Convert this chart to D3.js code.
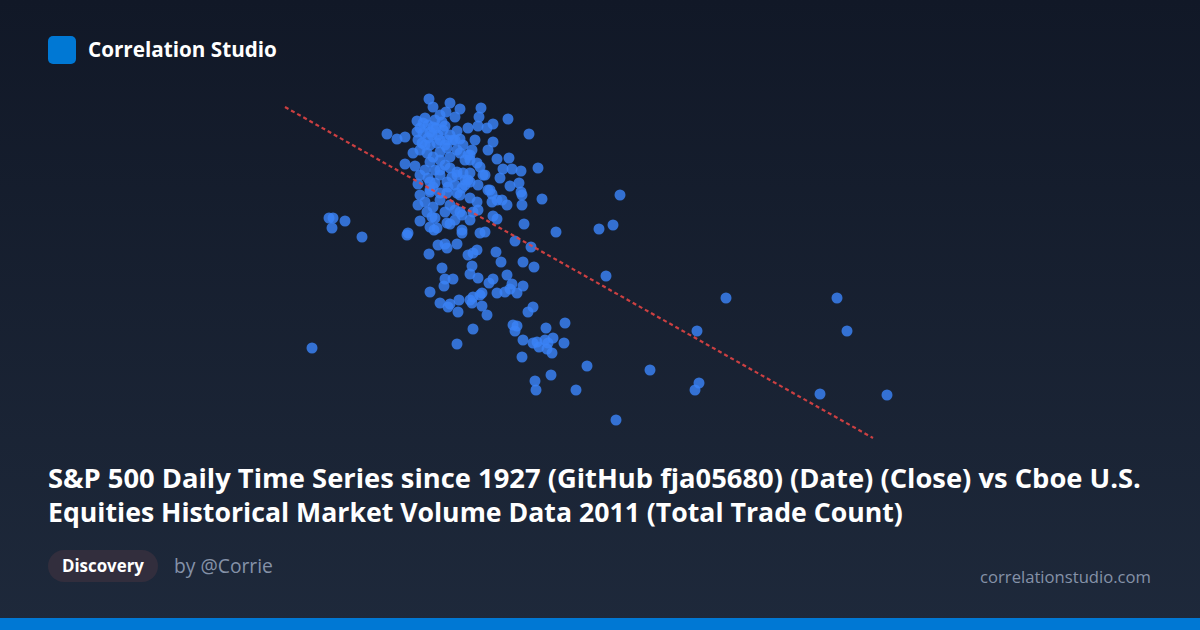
<!DOCTYPE html>
<html><head><meta charset="utf-8">
<script src="https://cdn.jsdelivr.net/npm/d3@7"></script>
<style>html,body{margin:0;padding:0;background:#111827;}svg{display:block;}</style>
</head><body>
<svg id="chart" width="1200" height="630"></svg>
<script>
// S&P close (relative units) per observation
const xValues = [149,153,170,166,180,201,199,198,207,213,228,249,213,107,117,125,137,137,138,143,148,153,162,163,158,150,143,177,180,173,167,157,150,142,140,147,153,160,167,177,180,185,170,160,150,133,125,197,200,160,170,177,183,190,203,217,229,223,232,241,258,138,150,153,160,167,172,177,185,190,182,177,167,160,150,145,153,147,170,175,180,190,197,193,198,212,217,212,213,217,230,239,242,242,241,262,244,235,251,140,150,154,157,167,170,182,182,200,205,128,127,158,165,167,177,197,193,188,149,216,49,53,52,65,82,276,319,333,340,221,243,254,162,192,198,190,165,173,164,209,213,227,232,243,225,230,237,217,200,202,193,179,150,190,192,202,160,170,168,178,207,248,253,233,237,235,193,266,285,243,253,257,259,265,268,273,267,272,284,242,307,271,255,256,296,177,32,326,446,557,417,567,370,419,415,540,607,336,
145,155,140,148,156,165,170,160,152,145,165,175,183,188,190,165,155,145,140,148,155,168,175,185,180,160,150,140,165,155,182,190,175,152,160,175,188,192,195,190,188,208,205,220,210,222,227,135,138,198,208];
// Total trade count (relative units) per observation
const yValues = [346,338,342,333,336,337,328,319,317,321,326,311,303,311,306,308,324,313,305,322,320,318,323,315,310,313,312,314,306,305,305,302,300,302,295,292,288,293,297,295,292,285,288,285,283,292,281,282,278,275,277,273,272,272,270,286,287,276,276,274,277,261,263,258,270,263,268,270,265,263,257,252,252,252,253,243,238,233,240,235,233,247,243,233,235,251,245,243,229,226,259,262,250,240,253,246,221,204,198,224,218,215,217,222,221,215,212,212,213,212,210,200,201,197,201,195,192,190,191,193,227,227,217,224,208,213,216,220,250,183,183,178,177,179,167,171,166,166,159,162,166,170,161,159,153,156,152,152,150,152,148,145,153,145,142,139,142,141,138,133,130,133,138,120,119,114,116,117,122,105,102,103,98,105,102,107,96,92,102,88,79,70,64,55,55,101,97,169,147,147,114,114,75,62,55,51,50,25,
327,325,317,307,317,319,310,305,310,300,300,305,300,290,285,280,275,275,270,267,262,258,260,260,250,245,255,250,233,227,230,225,225,228,330,328,317,295,305,290,265,295,270,267,255,245,240,279,240,260,255];
// Fitted trend line (x, y) endpoints in the same units
const trendX = [5, 593];
const trendY = [338, 7];

const svg = d3.select('#chart');
const W = 1200, H = 630;
const FONT = '"Open Sans", "Noto Sans", sans-serif';
const defs = svg.append('defs');
const grad = defs.append('linearGradient').attr('id','bg').attr('x1',0).attr('y1',0).attr('x2',0).attr('y2',1);
grad.append('stop').attr('offset','0%').attr('stop-color','#111827');
grad.append('stop').attr('offset','100%').attr('stop-color','#1e293b');
svg.append('rect').attr('width',W).attr('height',H).attr('fill','url(#bg)');

const x = d3.scaleLinear().domain([0,610]).range([280,890]);
const y = d3.scaleLinear().domain([0,350]).range([445,95]);

const pts = xValues.map((v,i)=>({x:v,y:yValues[i]}));
svg.append('g').selectAll('circle').data(pts).join('circle')
  .attr('cx',d=>x(d.x)).attr('cy',d=>y(d.y)).attr('r',5.5)
  .attr('fill','#3b82f6').attr('fill-opacity',0.82);

const trend = trendX.map((v,i)=>[v,trendY[i]]);
svg.append('path').datum(trend)
  .attr('d', d3.line().x(d=>x(d[0])).y(d=>y(d[1])))
  .attr('stroke','#e04444').attr('stroke-width',2.2).attr('stroke-dasharray','4,3')
  .attr('fill','none').attr('opacity',0.9);

// fit a text's font size to a target width
function fit(sel, target){
  const n = sel.node(); const fs = +sel.attr('font-size');
  const w = n.getComputedTextLength();
  if (w > 0) sel.attr('font-size', (fs*target/w).toFixed(2));
  return sel;
}

// header
svg.append('rect').attr('x',48).attr('y',36).attr('width',28).attr('height',28).attr('rx',5).attr('fill','#0078d4');
fit(svg.append('text').attr('x',88).attr('y',57).text('Correlation Studio')
  .attr('font-family',FONT).attr('font-weight',700).attr('font-size',20).attr('fill','#ffffff'), 189);

// title
const titleLines = ['S&P 500 Daily Time Series since 1927 (GitHub fja05680) (Date) (Close) vs Cboe U.S.',
  'Equities Historical Market Volume Data 2011 (Total Trade Count)'];
const titleWidths = [1093, 855];
titleLines.forEach((t,i)=>{
  fit(svg.append('text').attr('x',48).attr('y',488+i*34).text(t)
    .attr('font-family',FONT).attr('font-weight',700).attr('font-size',22).attr('fill','#ffffff'), titleWidths[i]);
});

// footer
svg.append('rect').attr('x',48).attr('y',550).attr('width',110).attr('height',32).attr('rx',16).attr('fill','#322e3d');
fit(svg.append('text').attr('x',62).attr('y',572).text('Discovery')
  .attr('font-family',FONT).attr('font-weight',700).attr('font-size',16).attr('fill','#ffffff'), 82);
fit(svg.append('text').attr('x',174).attr('y',573).text('by @Corrie')
  .attr('font-family',FONT).attr('font-size',17).attr('fill','#8592a8'), 99);
fit(svg.append('text').attr('x',1151).attr('y',583).attr('text-anchor','end').text('correlationstudio.com')
  .attr('font-family',FONT).attr('font-size',16).attr('fill','#8592a8'), 171);
svg.append('rect').attr('x',0).attr('y',618).attr('width',W).attr('height',12).attr('fill','#0078d4');
</script>
</body></html>
